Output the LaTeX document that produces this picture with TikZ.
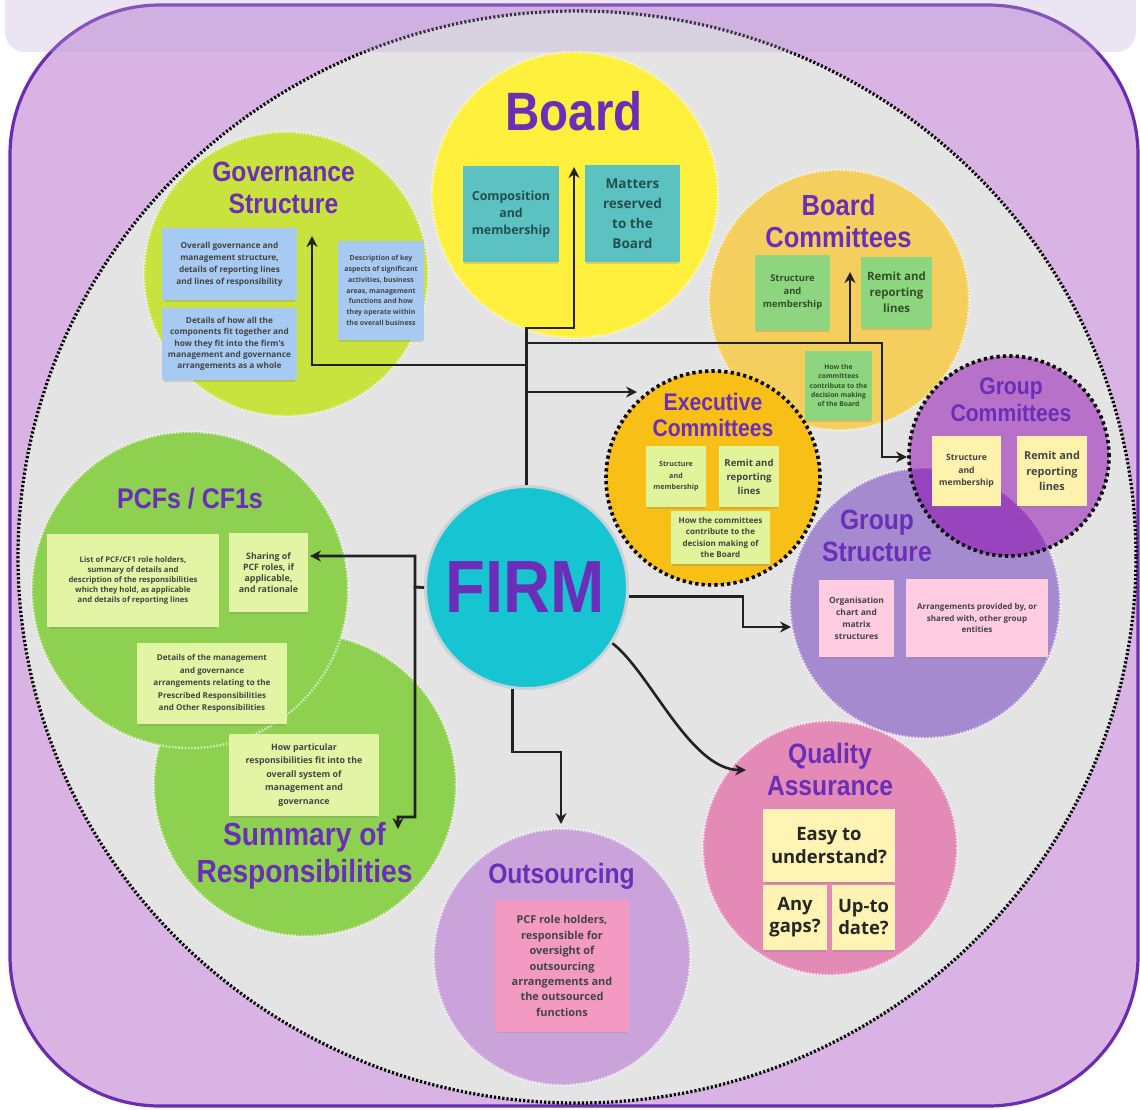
\documentclass[tikz,border=0pt]{standalone}
\usepackage{fontspec}
\setmainfont{Open Sans}
\newfontfamily\tfont[FakeStretch=0.88]{Liberation Sans}
\newfontfamily\nfont{Open Sans}
\usetikzlibrary{arrows.meta,shadows}
\newcommand\mytitlefont[2]{\tfont\bfseries\fontsize{#1}{#2}\selectfont}
\newcommand\mynf[2]{\nfont\bfseries\fontsize{\fpeval{#1*0.94}}{#2}\selectfont}
\definecolor{frame}{HTML}{6A2CB0}
\definecolor{bgpurple}{HTML}{D9B3E4}
\definecolor{bggray}{HTML}{E4E4E4}
\definecolor{band}{HTML}{BFABD8}
\definecolor{govc}{HTML}{C8E23E}
\definecolor{boardc}{HTML}{FEF03C}
\definecolor{bcc}{HTML}{F4CF5D}
\definecolor{gsc}{HTML}{A68AD0}
\definecolor{execc}{HTML}{F8BF17}
\definecolor{gcc}{HTML}{8B00AF}
\definecolor{sumc}{HTML}{8ED04F}
\definecolor{outc}{HTML}{C9A3D9}
\definecolor{qac}{HTML}{E48AB6}
\definecolor{firmc}{HTML}{17C5D2}
\definecolor{firmedge}{HTML}{C8D2D8}
\definecolor{ttlc}{HTML}{6A2EB8}
\definecolor{notetext}{HTML}{444444}
\definecolor{noteblue}{HTML}{A7CAF2}
\definecolor{noteteal}{HTML}{5CC1C1}
\definecolor{tealtext}{HTML}{234F4F}
\definecolor{notegreen}{HTML}{8DD57F}
\definecolor{greentext}{HTML}{34502A}
\definecolor{notelime}{HTML}{E2F49A}
\definecolor{noteyellow}{HTML}{FFF2AD}
\definecolor{notepink}{HTML}{FFCCE1}
\definecolor{notepcf}{HTML}{E3F5A4}
\definecolor{noteout}{HTML}{F29AC2}
\definecolor{noteqa}{HTML}{FFF4B3}
\definecolor{linec}{HTML}{222222}
\tikzset{
  zone/.style={circle, inner sep=0pt, draw=white, draw opacity=0.6, line width=1.2pt, dash pattern=on 0.8pt off 0.8pt},
  dotblack/.style={circle, inner sep=0pt, draw=black, line width=1.8pt, dash pattern=on 1.6pt off 1.6pt},
  ttl/.style={text=ttlc, align=center, inner sep=0pt},
  note/.style={rectangle, inner sep=0pt, align=center, text=notetext,
    drop shadow={shadow xshift=0pt, shadow yshift=-1.6pt, shadow scale=0.97, opacity=0.28}},
  conn/.style={draw=linec, line width=1.3pt, -{Stealth[length=5.5pt,width=5.5pt]}},
}
\begin{document}
\begin{tikzpicture}[x=0.5pt,y=-0.5pt]
\useasboundingbox (0,0) rectangle (1140,1109);
\fill[white] (0,0) rectangle (1140,1109);
% frame and background
\draw[draw=frame, line width=1.6pt, fill=bgpurple, rounded corners=75pt] (10,5) rectangle (1138,1106);
\draw[fill=bggray, draw=black, line width=1.6pt, dash pattern=on 1.1pt off 1pt] (577,557) ellipse [x radius=559, y radius=546];
\fill[band, fill opacity=0.31, rounded corners=10pt] (5,-40) rectangle (1136,52);
% zones
\node[zone, fill=govc, minimum size=142pt] (gov) at (286,274) {};
\node[zone, fill=boardc, minimum size=143pt] (board) at (575,195) {};
\node[zone, fill=bcc, minimum size=130pt] (bc) at (839,300) {};
\node[zone, fill=gsc, minimum size=135pt] (gs) at (925,603) {};
\node[dotblack, fill=execc, minimum size=107pt] (exec) at (713,478) {};
\node[dotblack, fill=gcc, fill opacity=0.5, minimum size=100pt] (gc) at (1009,456) {};
\node[zone, fill=sumc, minimum size=151pt] (sum) at (305,785) {};
\node[zone, fill=sumc, minimum size=158pt] (pcf) at (190,590) {};
\node[zone, fill=outc, minimum size=128pt] (out) at (562,957) {};
\node[zone, fill=qac, minimum size=127pt] (qa) at (830,848) {};
\node[circle, inner sep=0pt, fill=firmc, draw=firmedge, line width=1.5pt, minimum size=101pt] (firm) at (526.5,587.5) {};
% titles
\node[ttl, font=\mytitlefont{27}{30}] (tboard) at (574,111) {Board};
\node[ttl, font=\mytitlefont{14}{16}] (tgov) at (283.5,188) {Governance\\Structure};
\node[ttl, font=\mytitlefont{14.5}{16}] (tbc) at (838.5,221) {Board\\Committees};
\node[ttl, font=\mytitlefont{12}{13}] (texec) at (713,415) {Executive\\Committees};
\node[ttl, font=\mytitlefont{12}{13.5}] (tgc) at (1011,400) {Group\\Committees};
\node[ttl, font=\mytitlefont{14}{16}] (tgs) at (877,536) {Group\\Structure};
\node[ttl, font=\mytitlefont{14.2}{16}] (tpcf) at (190,498) {PCFs / CF1s};
\node[ttl, font=\mytitlefont{16}{18.5}] (tsum) at (304.5,856) {Summary of\\Responsibilities};
\node[ttl, font=\mytitlefont{14}{16}] (tout) at (561.5,876) {Outsourcing};
\node[ttl, font=\mytitlefont{14}{16}] (tqa) at (830,769) {Quality\\Assurance};
\node[ttl, font=\mytitlefont{37}{40}] (tfirm) at (525.5,587) {FIRM};
% governance notes
\node[note, fill=noteblue, minimum width=67.5pt, minimum height=36pt, font=\mynf{4.4}{6}] (gn1) at (229.5,264) {Overall governance and\\management structure,\\details of reporting lines\\and lines of responsibility};
\node[note, fill=noteblue, minimum width=67.5pt, minimum height=36pt, font=\mynf{4.4}{5.6}] (gn2) at (229.5,344) {Details of how all the\\components fit together and\\how they fit into the firm's\\management and governance\\arrangements as a whole};
\node[note, fill=noteblue, minimum width=43pt, minimum height=49.5pt, font=\mynf{3.7}{5.4}] (gn3) at (381,290.5) {Description of key\\aspects of significant\\activities, business\\areas, management\\functions and how\\they operate within\\the overall business};
% board notes
\node[note, fill=noteteal, text=tealtext, minimum width=48pt, minimum height=48pt, font=\mynf{6.6}{8.5}] (bn1) at (511,214) {Composition\\and\\membership};
\node[note, fill=noteteal, text=tealtext, minimum width=47.5pt, minimum height=48.5pt, font=\mynf{7.2}{10}] (bn2) at (632.5,213.5) {Matters\\reserved\\to the\\Board};
% board committees notes
\node[note, fill=notegreen, text=greentext, minimum width=37.5pt, minimum height=37.5pt, font=\mynf{5}{6.5}] (bcn1) at (792.5,292.5) {Structure\\and\\membership};
\node[note, fill=notegreen, text=greentext, minimum width=35.5pt, minimum height=35.5pt, font=\mynf{6.1}{8}] (bcn2) at (896.5,292.5) {Remit and\\reporting\\lines};
\node[note, fill=notegreen, text=greentext, minimum width=33.5pt, minimum height=34.5pt, font=\mynf{3.6}{4.65}] (bcn3) at (838.5,385.5) {How the\\committees\\contribute to the\\decision making\\of the Board};
% executive notes
\node[note, fill=notelime, minimum width=30pt, minimum height=30.5pt, font=\mynf{3.8}{5.7}] (en1) at (676,476.5) {Structure\\and\\membership};
\node[note, fill=notelime, minimum width=30pt, minimum height=30.5pt, font=\mynf{5.1}{7}] (en2) at (749,476.5) {Remit and\\reporting\\lines};
\node[note, fill=notelime, minimum width=49.5pt, minimum height=26.5pt, font=\mynf{4.3}{5.8}] (en3) at (720.5,537.5) {How the committees\\contribute to the\\decision making of\\the Board};
% group committees notes
\node[note, fill=noteyellow, minimum width=34.5pt, minimum height=35pt, font=\mynf{4.6}{6.2}] (gcn1) at (966.5,471) {Structure\\and\\membership};
\node[note, fill=noteyellow, minimum width=35pt, minimum height=35pt, font=\mynf{5.8}{7.7}] (gcn2) at (1052,471) {Remit and\\reporting\\lines};
% group structure notes
\node[note, fill=notepink, minimum width=37.5pt, minimum height=38.5pt, font=\mynf{4.5}{6.1}] (gsn1) at (856.5,618.5) {Organisation\\chart and\\matrix\\structures};
\node[note, fill=notepink, minimum width=71pt, minimum height=39pt, font=\mynf{4.3}{5.8}] (gsn2) at (977,618) {Arrangements provided by, or\\shared with, other group\\entities};
% PCF notes
\node[note, fill=notepcf, minimum width=86pt, minimum height=46.5pt, font=\mynf{4.1}{5.1}] (pn1) at (133,580.5) {List of PCF/CF1 role holders,\\summary of details and\\description of the responsibilities\\which they hold, as applicable\\and details of reporting lines};
\node[note, fill=notepcf, minimum width=39.5pt, minimum height=39.5pt, font=\mynf{4.7}{5.4}] (pn2) at (268.5,572.5) {Sharing of\\PCF roles, if\\applicable,\\and rationale};
\node[note, fill=notepcf, minimum width=75pt, minimum height=40.5pt, font=\mynf{4.3}{6.2}] (pn3) at (212,683.5) {Details of the management\\and governance\\arrangements relating to the\\Prescribed Responsibilities\\and Other Responsibilities};
% summary note
\node[note, fill=notepcf, minimum width=75pt, minimum height=41pt, font=\mynf{4.7}{6.7}] (sn1) at (304,775) {How particular\\responsibilities fit into the\\overall system of\\management and\\governance};
% outsourcing note
\node[note, fill=noteout, minimum width=67pt, minimum height=66pt, font=\mynf{5.8}{7.7}] (on1) at (562,966) {PCF role holders,\\responsible for\\oversight of\\outsourcing\\arrangements and\\the outsourced\\functions};
% quality notes
\node[note, fill=noteqa, text=black!85, minimum width=66pt, minimum height=36.5pt, font=\mynf{9.8}{11.7}] (qn1) at (829,845.5) {Easy to\\understand?};
\node[note, fill=noteqa, text=black!85, minimum width=32pt, minimum height=32.5pt, font=\mynf{9.8}{11}] (qn2) at (795,917.5) {Any\\gaps?};
\node[note, fill=noteqa, text=black!85, minimum width=31.5pt, minimum height=32.5pt, font=\mynf{9.8}{11}] (qn3) at (863.5,917.5) {Up-to\\date?};
% connector points
\coordinate (boardtip) at (574,167);
\coordinate (bbend) at (574,328);
\coordinate (govtip) at (312,236);
\coordinate (gbend) at (312,365);
\coordinate (exectip) at (637,392);
\coordinate (bctip) at (850,272);
\coordinate (bcbend) at (850,343);
\coordinate (gcbend) at (882,343);
\coordinate (gctip) at (907,457);
\coordinate (pcfj) at (415,587);
\coordinate (pcftip) at (310,556);
\coordinate (sumbend) at (398,817);
\coordinate (sumtip) at (398,829);
\coordinate (gsbend) at (743,627);
\coordinate (gstip) at (791,627);
\coordinate (outbend) at (561,752);
\coordinate (outtip) at (561,824);
\coordinate (qatip) at (746,770);
% connectors
\draw[conn] (firm.north) |- (bbend) -- (boardtip);
\draw[conn] (firm.north) |- (gbend) -- (govtip);
\draw[conn] (firm.north) |- (exectip);
\draw[conn] (firm.north) |- (bcbend) -- (bctip);
\draw[conn] (firm.north) |- (gcbend) |- (gctip);
\draw[conn] (firm.west) -- (pcfj) |- (pcftip);
\draw[conn] (firm.west) -- (pcfj) |- (sumbend) -- (sumtip);
\draw[conn] (firm.-5) -| (gsbend) -- (gstip);
\draw[conn] (firm.-98) |- (outbend) -- (outtip);
\draw[conn] (firm.-33) .. controls (650,672) and (690,770) .. (qatip);
\end{tikzpicture}
\end{document}
